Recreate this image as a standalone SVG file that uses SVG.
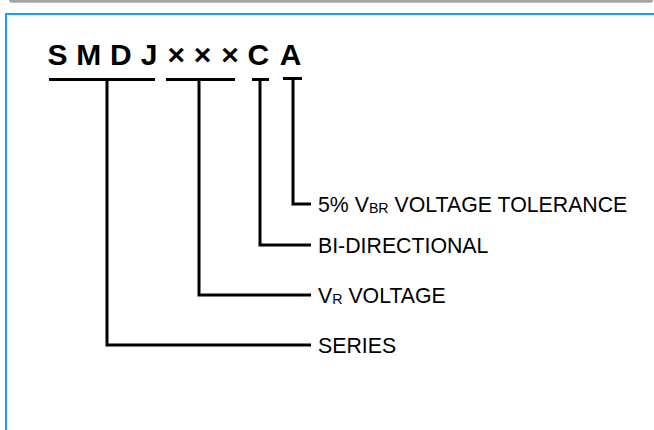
<svg xmlns="http://www.w3.org/2000/svg" width="654" height="430" viewBox="0 0 654 430">
<style>
.title{font-family:"Liberation Sans",Arial,sans-serif;font-weight:bold;font-size:30px;fill:#000;text-anchor:middle}
.lbl{font-family:"Liberation Sans",Arial,sans-serif;font-size:21.3px;fill:#000}
.sub{font-size:14.2px}
.wire{fill:none;stroke:#000;stroke-width:3;stroke-linejoin:miter;stroke-linecap:butt}
</style>
<rect width="654" height="430" fill="#fff"/>
<rect x="9" y="-10" width="644" height="12.7" rx="3" fill="#a3a3a3"/>
<rect x="6" y="14" width="700" height="500" fill="#fff" stroke="#1a9bff" stroke-width="2"/>
<g id="title">
<text class="title" x="57.5 88.7 120.8 149.2 176.3 202.5 230 258.3 290.5" y="65">SMDJ×××CA</text>
</g>
<g id="connectors">
<path class="wire" d="M49 79.5H155M166 79.5H235M252 79.5H269M283 78.5H302"/>
<path class="wire" d="M107 79.5V345H311"/>
<path class="wire" d="M199 79.5V295H311"/>
<path class="wire" d="M260 79.5V245H311"/>
<path class="wire" d="M293 78.5V204H311"/>
</g>
<g id="tolerance">
<text class="lbl" x="318" y="211.5">5% V<tspan class="sub" dy="1">BR</tspan><tspan dy="-1"> VOLTAGE TOLERANCE</tspan></text>
</g>
<g id="bidirectional">
<text class="lbl" x="318" y="252.5">BI-DIRECTIONAL</text>
</g>
<g id="vr-voltage">
<text class="lbl" x="318" y="302.5">V<tspan class="sub" dy="1">R</tspan><tspan dy="-1"> VOLTAGE</tspan></text>
</g>
<g id="series">
<text class="lbl" x="318" y="352.5">SERIES</text>
</g>
</svg>
